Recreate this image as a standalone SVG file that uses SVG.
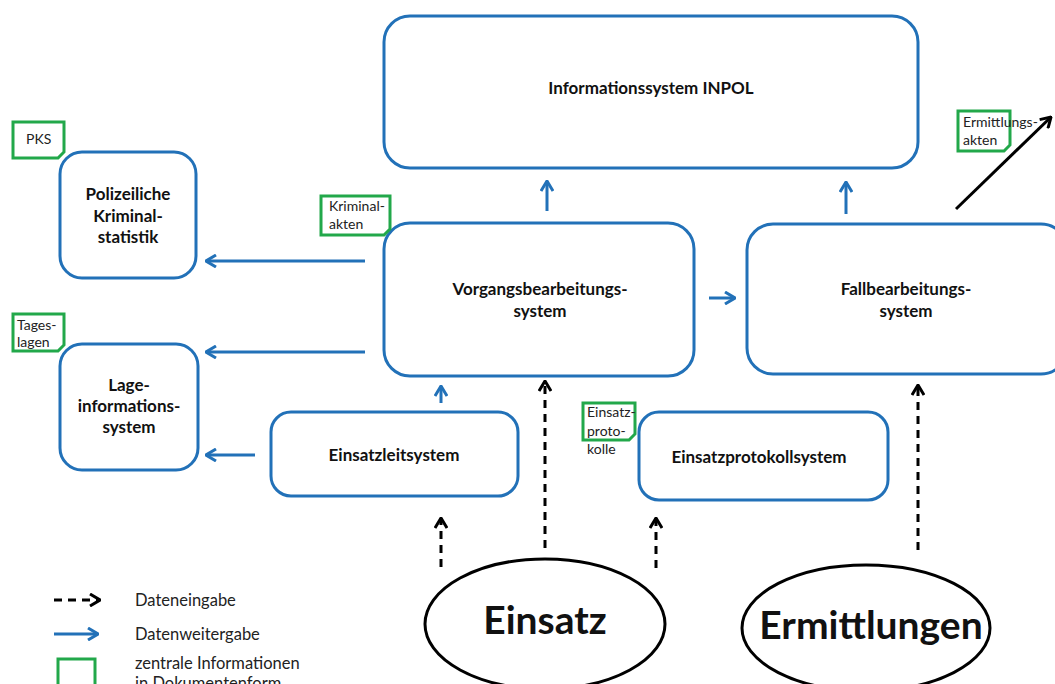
<svg xmlns="http://www.w3.org/2000/svg" width="1055" height="684" viewBox="0 0 1055 684">
<style>
.box{fill:#fff;stroke:#2271B8;stroke-width:3}
.doc{fill:#fff;stroke:#22A84A;stroke-width:3}
.t{font-family:Lato,"Open Sans",sans-serif;font-weight:700;font-size:17px;fill:#111;text-anchor:middle}
.s{font-family:Lato,"Open Sans",sans-serif;font-size:14px;fill:#222}
.big{font-family:Lato,"Open Sans",sans-serif;font-weight:700;font-size:39px;fill:#111;text-anchor:middle}
.leg{font-family:Lato,"Open Sans",sans-serif;font-size:16.5px;fill:#222}
.blue{stroke:#2271B8;stroke-width:3;fill:none;marker-end:url(#hb)}
.dash{stroke:#000;stroke-width:3;fill:none;stroke-dasharray:8 6;marker-end:url(#hk)}
.ell{fill:#fff;stroke:#000;stroke-width:3}
</style>
<defs>
<marker id="hb" markerUnits="userSpaceOnUse" viewBox="0 0 12 14" refX="11" refY="7" markerWidth="12" markerHeight="14" orient="auto"><path d="M1,1 L11,7 L1,13" fill="none" stroke="#2271B8" stroke-width="3"/></marker>
<marker id="hk" markerUnits="userSpaceOnUse" viewBox="0 0 12 14" refX="11" refY="7" markerWidth="12" markerHeight="14" orient="auto"><path d="M1,1 L11,7 L1,13" fill="none" stroke="#000" stroke-width="3"/></marker>
</defs>
<rect width="1055" height="684" fill="#fff"/>
<g id="connectors">
<line class="blue" x1="365" y1="261" x2="206" y2="261"/>
<line class="blue" x1="365" y1="352" x2="206" y2="352"/>
<line class="blue" x1="255" y1="455" x2="206" y2="455"/>
<line class="blue" x1="441" y1="403" x2="441" y2="386"/>
<line class="blue" x1="547" y1="211" x2="547" y2="181"/>
<line class="blue" x1="846" y1="214" x2="846" y2="182"/>
<line class="blue" x1="709" y1="298" x2="735" y2="298"/>
<line class="dash" x1="441" y1="567" x2="441" y2="518"/>
<line class="dash" x1="545" y1="548" x2="545" y2="381"/>
<line class="dash" x1="656" y1="568" x2="656" y2="518"/>
<line class="dash" x1="918" y1="550" x2="918" y2="385"/>
<line x1="956" y1="209" x2="1051" y2="117" stroke="#000" stroke-width="3" marker-end="url(#hk)"/>
</g>
<g id="inpol"><rect class="box" x="384" y="16" width="534" height="152" rx="26"/><text class="t" x="651" y="94">Informationssystem INPOL</text></g>
<g id="pks-box"><rect class="box" x="60" y="152" width="136" height="126" rx="22"/><text class="t" x="128" y="200">Polizeiliche</text><text class="t" x="128" y="222">Kriminal-</text><text class="t" x="128" y="243">statistik</text></g>
<g id="pks-doc"><path class="doc" d="M13,122 H64 V152 L58,158 H13 Z"/><text class="s" x="26" y="144">PKS</text></g>
<g id="lage-box"><rect class="box" x="60" y="344" width="138" height="126" rx="22"/><text class="t" x="129" y="391">Lage-</text><text class="t" x="129" y="412">informations-</text><text class="t" x="129" y="433">system</text></g>
<g id="tages-doc"><path class="doc" d="M13,314 H64 V345 L58,351 H13 Z"/><text class="s" x="17" y="330">Tages-</text><text class="s" x="17" y="347">lagen</text></g>
<g id="vorgang"><rect class="box" x="384" y="223" width="310" height="153" rx="26"/><text class="t" x="540" y="295">Vorgangsbearbeitungs-</text><text class="t" x="540" y="317">system</text></g>
<g id="krim-doc"><path class="doc" d="M321,196 H390 V229 L384,235 H321 Z"/><text class="s" x="329" y="211">Kriminal-</text><text class="s" x="329" y="229">akten</text></g>
<g id="fall"><rect class="box" x="747" y="224" width="320" height="150" rx="26"/><text class="t" x="906" y="295">Fallbearbeitungs-</text><text class="t" x="906" y="317">system</text></g>
<g id="ermakten-doc"><path class="doc" d="M958,111 H1010 V145 L1004,151 H958 Z"/><text class="s" x="963" y="127">Ermittlungs-</text><text class="s" x="963" y="145">akten</text></g>
<g id="einsatzleit"><rect class="box" x="271" y="412" width="247" height="84" rx="20"/><text class="t" x="394" y="461">Einsatzleitsystem</text></g>
<g id="einsatzprot"><rect class="box" x="639" y="412" width="249" height="88" rx="20"/><text class="t" x="759" y="463">Einsatzprotokollsystem</text></g>
<g id="einsatzprot-doc"><path class="doc" d="M583,403 H635 V434 L629,440 H583 Z"/><text class="s" x="587" y="417">Einsatz-</text><text class="s" x="587" y="436">proto-</text><text class="s" x="587" y="454">kolle</text></g>
<g id="einsatz"><ellipse class="ell" cx="545" cy="624" rx="120" ry="65"/><text class="big" x="545" y="634">Einsatz</text></g>
<g id="ermittlungen"><ellipse class="ell" cx="866" cy="628" rx="124" ry="63"/><text class="big" x="871" y="639" font-size="41">Ermittlungen</text></g>
<g id="legend">
<line class="dash" x1="54" y1="600" x2="100" y2="600"/>
<text class="leg" x="135" y="606">Dateneingabe</text>
<line class="blue" x1="54" y1="634" x2="98" y2="634"/>
<text class="leg" x="135" y="640">Datenweitergabe</text>
<rect x="58" y="659" width="37" height="40" fill="#fff" stroke="#22A84A" stroke-width="3"/>
<text class="leg" x="135" y="669">zentrale Informationen</text>
<text class="leg" x="135" y="689">in Dokumentenform</text>
</g>
</svg>
